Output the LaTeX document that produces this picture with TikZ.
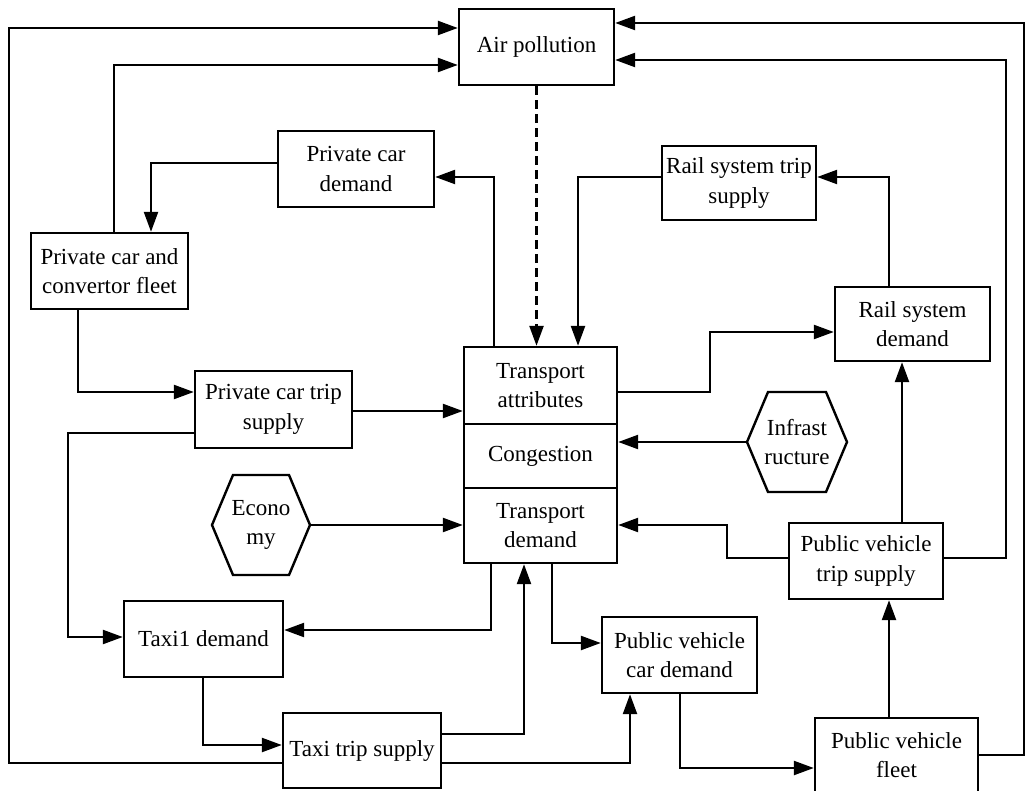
\documentclass[tikz,border=0pt]{standalone}
\usepackage{fontspec}
\setmainfont{Liberation Serif}
\usetikzlibrary{arrows.meta}
\begin{document}
\begin{tikzpicture}[x=1pt,y=-1pt,
  box/.style={draw,line width=2.4pt,align=center,inner sep=0pt,font=\fontsize{23}{29.5}\selectfont},
  lbl/.style={align=center,inner sep=0pt,font=\fontsize{23}{29.5}\selectfont},
  hexa/.style={draw,line width=2.4pt,line join=miter},
  arr/.style={line width=2.4pt,-{Triangle[length=20pt,width=14pt]}},
  dsh/.style={dash pattern=on 9pt off 5pt}]
\useasboundingbox (0,0) rectangle (1027,791);
\begin{scope}
\clip (0,0) rectangle (1027,791);
% boxes
\node[box,minimum width=155pt,minimum height=76pt] (air) at (536.5,47) {Air pollution};
\node[box,minimum width=156pt,minimum height=76pt] (pcd) at (356,169) {Private car\\demand};
\node[box,minimum width=157pt,minimum height=76pt] (pcf) at (109.5,271) {Private car and\\convertor fleet};
\node[box,minimum width=157pt,minimum height=77pt] (pcts) at (273.5,409.5) {Private car trip\\supply};
\node[box,minimum width=153pt,minimum height=77pt] (ta) at (540.5,385.5) {Transport\\attributes};
\node[box,minimum width=153pt,minimum height=64pt] (cong) at (540.5,456) {Congestion};
\node[box,minimum width=153pt,minimum height=75pt] (td) at (540.5,525.5) {Transport\\demand};
\node[box,minimum width=154pt,minimum height=74pt] (rts) at (739,183) {Rail system trip\\supply};
\node[box,minimum width=155pt,minimum height=74pt] (rsd) at (912.5,324) {Rail system\\demand};
\node[box,minimum width=154pt,minimum height=76pt] (pvts) at (866,561) {Public vehicle\\trip supply};
\node[box,minimum width=155pt,minimum height=76pt] (pvcd) at (679.5,655) {Public vehicle\\car demand};
\node[box,minimum width=163pt,minimum height=74pt] (pvf) at (896.5,755) {Public vehicle\\fleet};
\node[box,minimum width=159pt,minimum height=76pt] (taxd) at (203.5,639) {Taxi1 demand};
\node[box,minimum width=158pt,minimum height=75pt] (tts) at (362,750.5) {Taxi trip supply};
% hexagons
\node[lbl] (econ) at (261,525) {Econo\\my};
\draw[hexa] (212,525) -- (233,475) -- (289,475) -- (310,525) -- (289,575) -- (233,575) -- cycle;
\coordinate (econR) at (310,525);
\node[lbl] (infra) at (797,442) {Infrast\\ructure};
\draw[hexa] (747,442) -- (768,392) -- (826,392) -- (847,442) -- (826,492) -- (768,492) -- cycle;
\coordinate (infraL) at (747,442);
% connectors to air pollution
\draw[arr] (tts.west |- 0,763) -- (9,763) -- (9,28) -- (air.west |- 0,28);
\draw[arr] (pcf.north -| 114,0) -- (114,65) -- (air.west |- 0,65);
\draw[arr] (pvf.east |- 0,755) -- (1024,755) -- (1024,23) -- (air.east |- 0,23);
\draw[arr] (pvts.east |- 0,558) -- (1006,558) -- (1006,60) -- (air.east |- 0,60);
\draw[arr,dsh] (air.south) -- (ta.north -| air.south);
% upper part
\draw[arr] (rts.west |- 0,177) -- (578,177) -- (ta.north -| 578,0);
\draw[arr] (ta.north -| 494,0) -- (494,177) -- (pcd.east |- 0,177);
\draw[arr] (pcd.west |- 0,163) -- (151,163) -- (pcf.north -| 151,0);
\draw[arr] (pcf.south -| 78,0) -- (78,392) -- (pcts.west |- 0,392);
\draw[arr] (pcts.east |- 0,411) -- (ta.west |- 0,411);
\draw[arr] (pcts.west |- 0,433) -- (68,433) -- (68,637) -- (taxd.west |- 0,637);
\draw[arr] (ta.east |- 0,392) -- (710,392) -- (710,332) -- (rsd.west |- 0,332);
\draw[arr] (rsd.north -| 889,0) -- (889,177) -- (rts.east |- 0,177);
\draw[arr] (infraL) -- (cong.east |- infraL);
\draw[arr] (econR) -- (td.west |- econR);
% lower part
\draw[arr] (pvts.north -| 902,0) -- (rsd.south -| 902,0);
\draw[arr] (pvts.west |- 0,558) -- (727,558) -- (727,525) -- (td.east |- 0,525);
\draw[arr] (pvf.north -| 889,0) -- (pvts.south -| 889,0);
\draw[arr] (td.south -| 552,0) -- (552,643) -- (pvcd.west |- 0,643);
\draw[arr] (pvcd.south -| 680,0) -- (680,768) -- (pvf.west |- 0,768);
\draw[arr] (tts.east |- 0,763) -- (630,763) -- (pvcd.south -| 630,0);
\draw[arr] (tts.east |- 0,734) -- (524,734) -- (td.south -| 524,0);
\draw[arr] (td.south -| 491,0) -- (491,630) -- (taxd.east |- 0,630);
\draw[arr] (taxd.south -| 203,0) -- (203,745) -- (tts.west |- 0,745);
\end{scope}
\end{tikzpicture}
\end{document}
